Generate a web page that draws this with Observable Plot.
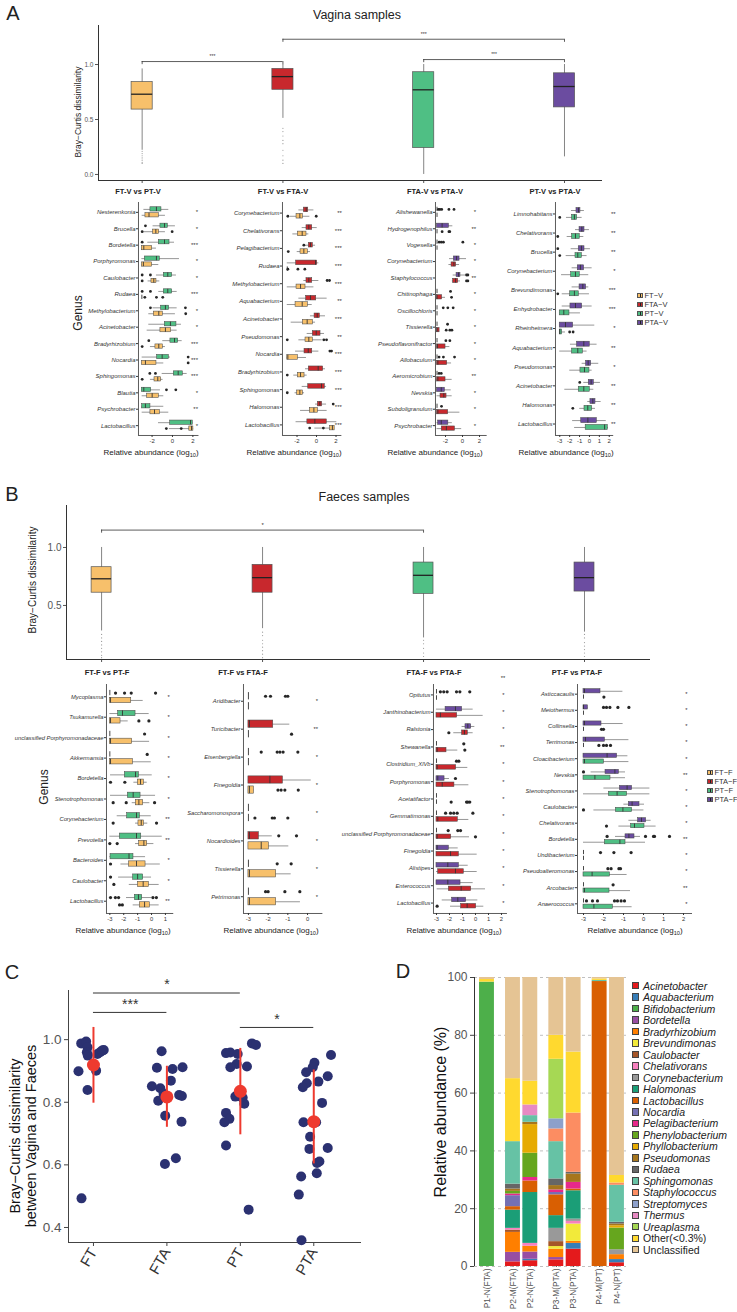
<!DOCTYPE html>
<html><head><meta charset="utf-8">
<script src="https://cdn.jsdelivr.net/npm/d3@7"></script>
<script src="https://cdn.jsdelivr.net/npm/@observablehq/plot@0.6"></script>
<style>
html,body{margin:0;padding:0;background:#fff;}
#root{position:relative;width:737px;height:1312px;overflow:hidden;font-family:"Liberation Sans",Arial,Helvetica,sans-serif;color:#222;background:#fff;}
#root svg{position:absolute;overflow:visible;}
.t{position:absolute;white-space:nowrap;line-height:1;}
.sub g[aria-label^="y-axis"] text{font-style:italic;}
.cplot g[aria-label^="x-axis"] text{font-size:15px;fill:#333;}
.cplot g[aria-label^="y-axis"] text{font-size:13.5px;fill:#555;}
.dplot g[aria-label^="x-axis"] text{font-size:8.4px;fill:#555;}
.dplot g[aria-label^="y-axis"] text{font-size:12px;fill:#555;}
</style></head>
<body><div id="root"></div>
<script>
// ---------------- DATA ----------------
const COLORS = {FT:"#F7C06B", FTA:"#C8282D", PT:"#4FBF84", PTA:"#6B4CA0"};

// Panel A top (vagina) box stats: [whiskerLow, q1, median, q3, whiskerHigh]
const vagGroups = ["FT","FTA","PT","PTA"];
const vagStats = [[0.22,0.59,0.73,0.84,0.96],[0.51,0.77,0.89,0.96,1.0],[0.0,0.24,0.77,0.93,1.0],[0.16,0.61,0.80,0.92,1.0]];
const vagOutliers = [["FT",0.21,0.19,0.17,0.15,0.13,0.11,0.10],["FTA",0.42,0.39,0.35,0.31,0.28,0.22,0.17,0.13,0.10]];
const vagBrackets = [["FT","FTA",1.027,"***"],["FTA","PTA",1.23,"***"],["PT","PTA",1.045,"***"]];

// Panel B top (faeces)
const faeGroups = ["FT","FTA","PT","PTA"];
const faeStats = [[0.28,0.61,0.73,0.83,1.0],[0.30,0.61,0.74,0.85,1.0],[0.22,0.60,0.76,0.87,1.0],[0.27,0.62,0.74,0.87,1.0]];
const faeOutliers = [["FT",0.25,0.22,0.19,0.16,0.13,0.10,0.07,0.05],["FTA",0.27,0.24,0.20,0.17,0.14,0.11,0.08,0.05],["PT",0.20,0.17,0.13,0.09,0.06],["PTA",0.25,0.22,0.18,0.15,0.12,0.09,0.06]];
const faeBrackets = [["FT","PT",1.15,"*"]];

// Sub-panels: boxes [genus, group, wlo, q1, med, q3, whi], outliers [genus, group, values...]
const A1_genera = ["Nesterenkonia","Brucella","Bordetella","Porphyromonas","Caulobacter","Rudaea","Methylobacterium","Acinetobacter","Bradyrhizobium","Nocardia","Sphingomonas","Blautia","Psychrobacter","Lactobacillus"];
const A1_stars = ["*","*","***","*","*","***","*","*","***","***","***","*","**","*"];
const A1_boxes = [
["Nesterenkonia","PT",-2.8,-2.16,-1.57,-1.08,-0.36],["Nesterenkonia","FT",-2.97,-2.65,-2.3,-1.34,-0.69],
["Brucella","PT",-1.9,-1.18,-0.78,-0.46,0.29],["Brucella","FT",-2.81,-1.9,-1.63,-1.31,-0.69],
["Bordetella","PT",-2.42,-1.34,-0.78,-0.29,0.2],["Bordetella","FT",-3,-3,-2.81,-1.99,-1.57],
["Porphyromonas","PT",-3,-2.71,-1.57,-1.24,0.69],["Porphyromonas","FT",-3,-3,-2.85,-1.99,-1.34],
["Caulobacter","PT",-1.57,-0.85,-0.46,-0.03,0.39],["Caulobacter","FT",-2.39,-2.06,-1.83,-1.57,-1.24],
["Rudaea","PT",-1.34,-0.85,-0.46,-0.03,0.46],["Rudaea","FT",-3,-3,-3,-3,-3],
["Methylobacterium","PT",-1.9,-1.11,-0.69,-0.33,0.46],["Methylobacterium","FT",-2.32,-1.83,-1.34,-0.95,0.29],
["Acinetobacter","PT",-2.32,-0.75,-0.2,0.39,0.88],["Acinetobacter","FT",-2.48,-1.18,-0.69,-0.13,0.46],
["Bradyrhizobium","PT",-0.95,-0.2,0.2,0.56,0.95],["Bradyrhizobium","FT",-2.16,-1.67,-1.34,-0.95,-0.69],
["Nocardia","PT",-2.97,-1.5,-1.01,-0.36,-0.2],["Nocardia","FT",-3,-3,-2.65,-1.57,-0.85],
["Sphingomonas","PT",-1.01,0.13,0.56,1.01,1.44],["Sphingomonas","FT",-2.16,-1.76,-1.44,-1.11,-0.92],
["Blautia","PT",-3,-3,-2.81,-2.09,-1.18],["Blautia","FT",-2.97,-2.48,-1.99,-1.34,-0.85],
["Psychrobacter","PT",-3,-2.97,-2.65,-2.16,-0.85],["Psychrobacter","FT",-2.97,-2.16,-1.76,-1.24,-0.36],
["Lactobacillus","PT",-1.37,-0.22,1.77,1.99,2.0],["Lactobacillus","FT",-0.3,1.65,1.87,2.05,2.08]];
const A1_outliers = [["Brucella","PT",-2.65],["Brucella","FT",-2.97,-0.03],["Bordetella","PT",-2.97],
["Caulobacter","PT",-2.97,-2.16],["Caulobacter","FT",-2.97],["Rudaea","PT",-2.97,-2.16],["Rudaea","FT",-2.71,-1.57,-0.95],
["Methylobacterium","PT",-2.16,1.27],["Methylobacterium","FT",1.3],["Bradyrhizobium","PT",-2.32],["Bradyrhizobium","FT",-2.97],
["Nocardia","PT",1.54],["Nocardia","FT",1.54],["Sphingomonas","PT",-2.22,-1.67],["Sphingomonas","FT",-2.97],
["Blautia","PT",-0.59,0.33],["Lactobacillus","FT",-0.6,0.86]];

const A2_genera = ["Corynebacterium","Chelativorans","Pelagibacterium","Rudaea","Methylobacterium","Aquabacterium","Acinetobacter","Pseudomonas","Nocardia","Bradyrhizobium","Sphingomonas","Halomonas","Lactobacillus"];
const A2_stars = ["**","***","***","***","***","**","***","**","***","***","***","***","***"];
const A2_boxes = [
["Corynebacterium","FTA",-1.81,-1.3,-1.06,-0.85,-0.27],["Corynebacterium","FT",-2.67,-2.05,-1.71,-1.4,-0.68],
["Chelativorans","FTA",-1.47,-1.03,-0.79,-0.44,0.07],["Chelativorans","FT",-2.43,-1.91,-1.47,-1.03,-0.79],
["Pelagibacterium","FTA",-1.3,-0.79,-0.62,-0.38,-0.1],["Pelagibacterium","FT",-1.98,-1.64,-1.3,-0.89,-0.62],
["Rudaea","FTA",-3,-2.09,-0.1,0.07,0.24],["Rudaea","FT",-3,-3,-3,-3,-3],
["Methylobacterium","FTA",-1.3,-1.03,-0.79,-0.44,0.24],["Methylobacterium","FT",-3,-2.05,-1.64,-1.13,-0.27],
["Aquabacterium","FTA",-1.81,-1.06,-0.62,-0.03,1.09],["Aquabacterium","FT",-3,-2.15,-1.47,-0.89,-0.44],
["Acinetobacter","FTA",-0.62,-0.2,0.07,0.34,0.92],["Acinetobacter","FT",-2.6,-1.4,-0.96,-0.38,-0.1],
["Pseudomonas","FTA",-0.96,-0.38,-0.03,0.41,0.82],["Pseudomonas","FT",-1.81,-1.13,-0.79,-0.38,0.58],
["Nocardia","FTA",-2.15,-1.23,-0.85,-0.44,0.24],["Nocardia","FT",-3,-3,-2.94,-1.91,-1.03],
["Bradyrhizobium","FTA",-1.13,-0.79,0.17,0.68,0.92],["Bradyrhizobium","FT",-2.33,-1.91,-1.64,-1.23,-0.96],
["Sphingomonas","FTA",-1.47,-0.85,0.51,0.85,1.03],["Sphingomonas","FT",-2.2,-1.98,-1.71,-1.4,-1.23],
["Halomonas","FTA",-0.1,0.14,0.34,0.58,1.03],["Halomonas","FT",-1.64,-0.68,-0.27,0.14,1.09],
["Lactobacillus","FTA",-2.1,-0.94,-0.17,1.05,2.08],["Lactobacillus","FT",-0.17,1.4,1.63,1.86,1.86]];
const A2_outliers = [["Corynebacterium","FT",-2.94,-0.03],["Pelagibacterium","FTA",-1.3],["Pelagibacterium","FT",-2.9],
["Rudaea","FT",-2.94,-1.91,-1.2],["Methylobacterium","FTA",1.09,1.33],["Pseudomonas","FT",-3,0.75,1.03],
["Nocardia","FTA",1.37,1.54],["Bradyrhizobium","FT",-3],["Sphingomonas","FT",-3],["Halomonas","FTA",1.71],["Lactobacillus","FT",-0.7,0.7]];

const A3_genera = ["Alishewanella","Hydrogenophilus","Vogesella","Corynebacterium","Staphylococcus","Chitinophaga","Oscillochloris","Tissierella","Pseudoflavonifractor","Allobaculum","Aeromicrobium","Nevskia","Subdoligranulum","Psychrobacter"];
const A3_stars = ["*","**","*","*","**","*","*","*","*","*","**","*","*","*"];
const A3_boxes = [
["Alishewanella","PTA",-3,-3,-3,-3,-3],["Alishewanella","FTA",-3,-3,-3,-3,-3],
["Hydrogenophilus","PTA",-3,-3,-2.4,-1.6,-1.14],["Hydrogenophilus","FTA",-3,-3,-3,-3,-3],
["Vogesella","PTA",-3,-3,-3,-3,-3],["Vogesella","FTA",-3,-3,-3,-3,-3],
["Corynebacterium","PTA",-1.53,-1.02,-0.7,-0.35,0.47],["Corynebacterium","FTA",-1.6,-1.29,-1.02,-0.75,-0.35],
["Staphylococcus","PTA",-1.1,-0.7,-0.47,-0.24,0.35],["Staphylococcus","FTA",-1.2,-1.1,-0.82,-0.51,-0.24],
["Chitinophaga","PTA",-3,-3,-3,-3,-3],["Chitinophaga","FTA",-3,-3,-3,-2.4,-2.0],
["Oscillochloris","PTA",-3,-3,-3,-3,-3],["Oscillochloris","FTA",-3,-3,-3,-3,-3],
["Tissierella","PTA",-3,-3,-3,-3,-3],["Tissierella","FTA",-3,-3,-3,-2.7,-2.7],
["Pseudoflavonifractor","PTA",-3,-3,-3,-3,-3],["Pseudoflavonifractor","FTA",-3,-3,-2.95,-2.0,-1.49],
["Allobaculum","PTA",-3,-3,-3,-3,-3],["Allobaculum","FTA",-3,-3,-2.9,-1.8,-1.29],
["Aeromicrobium","PTA",-3,-3,-3,-3,-3],["Aeromicrobium","FTA",-3,-3,-2.9,-2.0,-1.22],
["Nevskia","PTA",-3,-3,-2.5,-2.08,-1.33],["Nevskia","FTA",-3,-2.59,-2.2,-1.88,-1.22],
["Subdoligranulum","PTA",-3,-3,-3,-3,-3],["Subdoligranulum","FTA",-3,-3,-2.9,-1.69,-0.31],
["Psychrobacter","PTA",-3,-2.86,-2.5,-1.67,-1.2],["Psychrobacter","FTA",-3,-2.44,-1.9,-0.89,-0.1]];
const A3_outliers = [["Alishewanella","PTA",-2.85,-2.67,-2.45,-1.6,-1.0],["Hydrogenophilus","FTA",-2.4,-1.6,-1.5],
["Vogesella","PTA",-2.75,-2.5,-2.25,0.04],["Staphylococcus","PTA",0.47,0.63],["Staphylococcus","FTA",0.47,0.63],
["Chitinophaga","PTA",-1.41],["Chitinophaga","FTA",-1.29],["Oscillochloris","PTA",-2.27,-1.73,-1.1],
["Tissierella","PTA",-1.76],["Tissierella","FTA",-1.92,-1.49,-1.25],["Pseudoflavonifractor","PTA",-1.96,-1.49],
["Allobaculum","PTA",-2.76,-2.25,-0.94],["Aeromicrobium","PTA",-2.76,-2.5],["Subdoligranulum","PTA",-2.47]];

const A4_genera = ["Limnohabitans","Chelativorans","Brucella","Corynebacterium","Brevundimonas","Enhydrobacter","Rheinheimera","Aquabacterium","Pseudomonas","Acinetobacter","Halomonas","Lactobacillus"];
const A4_stars = ["**","**","**","*","***","***","*","**","*","**","**","**"];
const A4_boxes = [
["Limnohabitans","PTA",-1.82,-1.31,-1.11,-0.91,-0.51],["Limnohabitans","PT",-2.32,-1.75,-1.52,-1.25,-0.74],
["Chelativorans","PTA",-1.41,-1.0,-0.77,-0.5,0.0],["Chelativorans","PT",-2.25,-1.75,-1.41,-0.98,-0.57],
["Brucella","PTA",-1.85,-1.08,-0.81,-0.5,0.1],["Brucella","PT",-2.35,-1.41,-1.18,-0.77,-0.24],
["Corynebacterium","PTA",-1.75,-1.18,-0.91,-0.54,0.27],["Corynebacterium","PT",-2.82,-1.85,-1.41,-0.98,-0.07],
["Brevundimonas","PTA",-1.75,-1.0,-0.67,-0.34,-0.07],["Brevundimonas","PT",-2.75,-1.95,-1.52,-1.08,0.0],
["Enhydrobacter","PTA",-2.75,-1.92,-1.41,-0.74,0.27],["Enhydrobacter","PT",-3,-3,-2.59,-2.02,-0.91],
["Rheinheimera","PTA",-3,-3,-2.42,-1.65,0.54],["Rheinheimera","PT",-3,-3,-3,-2.76,-2.42],
["Aquabacterium","PTA",-1.92,-1.25,-0.57,0.03,0.77],["Aquabacterium","PT",-3,-1.75,-1.18,-0.67,-0.24],
["Pseudomonas","PTA",-0.74,-0.34,-0.13,0.17,0.94],["Pseudomonas","PT",-1.99,-0.91,-0.5,0.0,0.27],
["Acinetobacter","PTA",-0.57,-0.07,0.17,0.44,1.11],["Acinetobacter","PT",-2.49,-1.08,-0.57,0.03,0.44],
["Halomonas","PTA",-0.17,0.1,0.34,0.61,1.18],["Halomonas","PT",-0.98,-0.5,-0.17,0.27,0.61],
["Lactobacillus","PTA",-1.7,-0.83,-0.16,0.74,1.7],["Lactobacillus","PT",-1.5,-0.38,1.53,1.85,1.9]];
const A4_outliers = [["Limnohabitans","PT",-3],["Chelativorans","PT",-3.2],["Brucella","PTA",-3.2],["Brucella","PT",-3],
["Brevundimonas","PT",-3.2],["Rheinheimera","PT",-2.0,-1.65],["Acinetobacter","PTA",-0.98],["Halomonas","PT",-1.68]];

const B1_genera = ["Mycoplasma","Tsukamurella","unclassified Porphyromonadaceae","Akkermansia","Bordetella","Stenotrophomonas","Corynebacterium","Prevotella","Bacteroides","Caulobacter","Lactobacillus"];
const B1_stars = ["*","*","*","*","*","*","**","**","*","*","**"];
const B1_boxes = [
["Mycoplasma","PT",-3,-3,-3,-3,-3],["Mycoplasma","FT",-3,-3,-2.95,-1.46,-0.6],
["Tsukamurella","PT",-3,-2.4,-2.09,-1.15,-0.17],["Tsukamurella","FT",-3,-3,-2.95,-2.23,-1.68],
["unclassified Porphyromonadaceae","PT",-3,-3,-3,-3,-3],["unclassified Porphyromonadaceae","FT",-3,-3,-2.95,-1.39,-0.14],
["Akkermansia","PT",-3,-3,-3,-3,-3],["Akkermansia","FT",-3,-3,-2.95,-1.34,-0.02],
["Bordetella","PT",-2.95,-1.92,-1.15,-0.91,0.05],["Bordetella","FT",-1.27,-0.98,-0.79,-0.55,-0.31],
["Stenotrophomonas","PT",-2.95,-1.7,-1.32,-0.79,0.29],["Stenotrophomonas","FT",-1.39,-1.13,-0.91,-0.6,-0.12],
["Corynebacterium","PT",-2.47,-1.75,-1.08,-0.84,-0.02],["Corynebacterium","FT",-1.15,-0.94,-0.74,-0.55,-0.27],
["Prevotella","PT",-3,-2.28,-1.08,-0.74,0.77],["Prevotella","FT",-1.15,-0.89,-0.55,-0.31,0.17],
["Bacteroides","PT",-3,-2.95,-1.62,-1.3,-0.43],["Bacteroides","FT",-2.2,-1.62,-1.08,-0.43,0.63],
["Caulobacter","PT",-2.37,-1.32,-1.0,-0.6,0.0],["Caulobacter","FT",-1.6,-0.98,-0.6,-0.19,0.55],
["Lactobacillus","PT",-1.8,-1.2,-0.94,-0.67,0.0],["Lactobacillus","FT",-1.32,-0.84,-0.5,-0.12,0.55]];
const B1_outliers = [["Mycoplasma","PT",-2.59,-1.94,-1.46,0.29],["Tsukamurella","FT",-0.91,-0.19],
["unclassified Porphyromonadaceae","PT",-0.5],["Akkermansia","PT",-0.31],["Bordetella","FT",-2.95,-1.92],
["Stenotrophomonas","FT",-2.76,-1.82,0.22],["Corynebacterium","FT",-2.76,0.36],["Prevotella","FT",-3,-2.47],
["Bacteroides","FT",-2.95],["Caulobacter","PT",-2.95],["Caulobacter","FT",-2.71],
["Lactobacillus","PT",-2.95,-2.6,-2.37,0.1,0.35],["Lactobacillus","FT",-2.3,-2.1]];

const B2_genera = ["Aridibacter","Turicibacter","Eisenbergiella","Finegoldia","Saccharomonospora","Nocardioides","Tissierella","Petrimonas"];
const B2_stars = ["*","**","*","*","*","*","*","*"];
const B2_boxes = [
["Aridibacter","FTA",-3,-3,-3,-3,-3],["Aridibacter","FT",-3,-3,-3,-3,-3],
["Turicibacter","FTA",-3,-3,-2.95,-1.74,-0.9],["Turicibacter","FT",-3,-3,-3,-3,-3],
["Eisenbergiella","FTA",-3,-3,-3,-3,-3],["Eisenbergiella","FT",-3,-3,-3,-3,-3],
["Finegoldia","FTA",-3,-3,-1.91,-1.25,0.19],["Finegoldia","FT",-3,-3,-2.95,-2.72,-2.72],
["Saccharomonospora","FTA",-3,-3,-3,-3,-3],["Saccharomonospora","FT",-3,-3,-3,-3,-3],
["Nocardioides","FTA",-3,-3,-2.95,-2.47,-1.79],["Nocardioides","FT",-3,-3,-2.35,-1.96,-0.95],
["Tissierella","FTA",-3,-3,-3,-3,-3],["Tissierella","FT",-3,-3,-2.95,-1.59,-0.83],
["Petrimonas","FTA",-3,-3,-3,-3,-3],["Petrimonas","FT",-3,-3,-2.95,-1.59,-0.36]];
const B2_outliers = [["Aridibacter","FTA",-2.13,-1.88,-1.12,-1.0],["Turicibacter","FT",-0.81],
["Eisenbergiella","FTA",-2.35,-1.54,-1.4,-1.24,-0.49],["Finegoldia","FT",-1.5,-1.34,-1.15,-0.47],
["Saccharomonospora","FT",-2.67,-1.79,-1.68,-1.0],["Nocardioides","FTA",-1.46,-0.56],
["Tissierella","FTA",-1.54,-0.83],["Petrimonas","FTA",-2.13,-2.0,-1.15,-0.39]];

const B3_genera = ["Opitutus","Janthinobacterium","Ralstonia","Shewanella","Clostridium_XlVb","Porphyromonas","Acetatifactor","Gemmatimonas","unclassified Porphyromonadaceae","Finegoldia","Alistipes","Enterococcus","Lactobacillus"];
const B3_stars = ["*","*","*","**","*","*","*","*","*","*","*","*","*"];
const B3_boxes = [
["Opitutus","PTA",-3,-3,-3,-3,-3],["Opitutus","FTA",-3,-3,-3,-3,-3],
["Janthinobacterium","PTA",-3,-2.3,-1.54,-1.03,-0.18],["Janthinobacterium","FTA",-3,-3,-2.7,-1.41,0.59],
["Ralstonia","PTA",-1.03,-0.77,-0.59,-0.33,-0.05],["Ralstonia","FTA",-1.67,-1.03,-0.85,-0.59,-0.18],
["Shewanella","PTA",-3,-3,-3,-3,-3],["Shewanella","FTA",-3,-3,-2.95,-2.23,-1.36],
["Clostridium_XlVb","PTA",-3,-3,-3,-3,-3],["Clostridium_XlVb","FTA",-3,-3,-2.95,-1.49,-0.59],
["Porphyromonas","PTA",-3,-3,-2.9,-2.38,-2.0],["Porphyromonas","FTA",-3,-3,-2.56,-1.62,-0.51],
["Acetatifactor","PTA",-3,-3,-3,-3,-3],["Acetatifactor","FTA",-3,-3,-3,-3,-3],
["Gemmatimonas","PTA",-3,-3,-3,-3,-3],["Gemmatimonas","FTA",-3,-3,-2.9,-1.36,-0.51],
["unclassified Porphyromonadaceae","PTA",-3,-3,-3,-3,-3],["unclassified Porphyromonadaceae","FTA",-3,-3,-2.95,-1.87,-0.46],
["Finegoldia","PTA",-3,-3,-2.95,-2.05,-1.33],["Finegoldia","FTA",-3,-3,-1.92,-1.28,0.13],
["Alistipes","PTA",-3,-3,-2.13,-1.28,-0.56],["Alistipes","FTA",-3,-2.87,-1.54,-0.9,0.13],
["Enterococcus","PTA",-3,-3,-2.13,-1.15,-0.18],["Enterococcus","FTA",-2.95,-2.05,-1.1,-0.33,0.77],
["Lactobacillus","PTA",-2.56,-1.79,-1.36,-0.72,0.18],["Lactobacillus","FTA",-1.92,-1.1,-0.64,0.05,0.64]];
const B3_outliers = [["Opitutus","PTA",-2.7,-2.44,-2.18,-1.46,-1.2,-0.44],["Ralstonia","FTA",-2.05],
["Shewanella","PTA",-0.9],["Shewanella","FTA",-0.82],["Clostridium_XlVb","PTA",-1.46,-1.28],["Porphyromonas","PTA",-1.54],
["Acetatifactor","FTA",-1.87,-0.69,-0.59,-0.44],["Gemmatimonas","PTA",-2.3,-1.92,-1.67,-1.41,-0.2],
["unclassified Porphyromonadaceae","PTA",-2.1,-1.36,-1.15],["unclassified Porphyromonadaceae","FTA",0.0],["Lactobacillus","FTA",-2.95]];

const B4_genera = ["Asticcacaulis","Meiothermus","Collinsella","Terrimonas","Cloacibacterium","Nevskia","Stenotrophomonas","Caulobacter","Chelativorans","Bordetella","Undibacterium","Pseudoalteromonas","Arcobacter","Anaerococcus"];
const B4_stars = ["*","*","*","*","*","**","*","*","*","**","*","*","**","*"];
const B4_boxes = [
["Asticcacaulis","PTA",-3,-3,-2.95,-2.15,-1.03],["Asticcacaulis","PT",-3,-3,-3,-3,-3],
["Meiothermus","PTA",-3,-3,-3,-2.78,-2.78],["Meiothermus","PT",-3,-3,-3,-3,-3],
["Collinsella","PTA",-3,-3,-2.95,-2.1,-1.02],["Collinsella","PT",-3,-3,-3,-3,-3],
["Terrimonas","PTA",-3,-3,-2.9,-1.93,-0.73],["Terrimonas","PT",-3,-3,-3,-3,-3],
["Cloacibacterium","PTA",-3,-3,-1.82,-1.32,-0.78],["Cloacibacterium","PT",-3,-3,-2.95,-1.98,-0.73],
["Nevskia","PTA",-2.62,-1.9,-1.43,-1.23,-0.9],["Nevskia","PT",-3,-3,-2.43,-1.65,-0.9],
["Stenotrophomonas","PTA",-1.98,-1.18,-0.82,-0.57,0.32],["Stenotrophomonas","PT",-3,-1.73,-1.32,-0.82,0.32],
["Caulobacter","PTA",-0.98,-0.73,-0.57,-0.2,0.05],["Caulobacter","PT",-2.48,-1.38,-1.03,-0.57,0.02],
["Chelativorans","PTA",-0.73,-0.27,-0.1,0.13,0.38],["Chelativorans","PT",-1.23,-0.62,-0.45,0.05,0.63],
["Bordetella","PTA",-1.4,-0.9,-0.73,-0.45,-0.15],["Bordetella","PT",-3,-1.93,-1.18,-0.9,0.1],
["Undibacterium","PTA",-3,-3,-3,-3,-3],["Undibacterium","PT",-3,-3,-3,-3,-3],
["Pseudoalteromonas","PTA",-3,-3,-3,-3,-3],["Pseudoalteromonas","PT",-3,-3,-2.57,-1.68,-0.82],
["Arcobacter","PTA",-3,-3,-3,-3,-3],["Arcobacter","PT",-3,-3,-2.95,-1.7,-0.65],
["Anaerococcus","PTA",-3,-3,-3,-3,-3],["Anaerococcus","PT",-3,-3,-2.48,-1.53,-0.57]];
const B4_outliers = [["Asticcacaulis","PT",-1.98],["Meiothermus","PTA",-2.0,-1.85,-1.68,-1.28,-0.73],["Collinsella","PT",-2.1,-2.0],
["Terrimonas","PT",-2.23,-2.0,-1.85,-1.65],["Nevskia","PTA",-3],["Caulobacter","PT",-3],["Chelativorans","PT",-1.85],
["Bordetella","PTA",-1.82,0.1,0.5,0.55,1.3],["Undibacterium","PTA",-2.15,-1.48,-0.62],
["Pseudoalteromonas","PTA",-1.78,-1.62,-1.23,-1.15],["Arcobacter","PTA",-1.52],["Anaerococcus","PTA",-2.85,-2.55,-2.3,-1.45,-1.3,-1.12,-0.95]];

// Panel C: points [jitter, value]
const cGroups = ["FT","FTA","PT","PTA"];
const cFT = [[-0.167,0.988],[-0.10,0.994],[-0.081,0.976],[-0.09,0.96],[-0.077,0.949],[-0.204,0.899],[0.036,0.901],[-0.081,0.839],[-0.163,0.493],[0.054,0.954],[0.09,0.96],[0.118,0.965],[0.14,0.967]];
const cFTA = [[-0.072,0.963],[-0.136,0.91],[0.077,0.906],[0.213,0.912],[0.054,0.869],[-0.204,0.851],[-0.09,0.845],[-0.045,0.827],[-0.118,0.805],[0.167,0.823],[0.204,0.82],[-0.023,0.757],[0.199,0.738],[-0.027,0.603],[0.122,0.621]];
const cPT = [[-0.195,0.957],[-0.136,0.959],[-0.036,0.954],[0.158,0.988],[0.213,0.983],[-0.05,0.922],[-0.136,0.912],[0.09,0.914],[-0.068,0.818],[0.032,0.814],[0.054,0.795],[-0.195,0.766],[-0.149,0.747],[-0.217,0.736],[-0.195,0.662],[0.113,0.457],[0.009,0.818]];
const cPTA = [[0.235,0.951],[0.009,0.926],[-0.014,0.912],[-0.104,0.896],[0.19,0.883],[0.063,0.866],[-0.095,0.861],[-0.149,0.848],[0.113,0.798],[-0.14,0.736],[0.032,0.736],[-0.05,0.69],[-0.059,0.651],[0.19,0.654],[0.077,0.611],[0.045,0.606],[0.041,0.573],[-0.172,0.563],[-0.204,0.505],[-0.167,0.359]];
const cMean = [0.919,0.817,0.835,0.738];
const cLow = [0.797,0.72,0.696,0.603];
const cHigh = [1.039,0.915,0.972,0.903];
const cBrackets = [["FT","PT",1.149,"*"],["FT","FTA",1.087,"***"],["PT","PTA",1.039,"*"]];

// Panel D
const dSamples = ["P1-N(FTA)","P2-M(FTA)","P2-N(FTA)","P3-M(PTA)","P3-N(PTA)","P4-M(PT)","P4-N(PT)"];
const dPatient = ["P1","P2","P2","P3","P3","P4","P4"];
const dGenera = ["Acinetobacter","Aquabacterium","Bifidobacterium","Bordetella","Bradyrhizobium","Brevundimonas","Caulobacter","Chelativorans","Corynebacterium","Halomonas","Lactobacillus","Nocardia","Pelagibacterium","Phenylobacterium","Phyllobacterium","Pseudomonas","Rudaea","Sphingomonas","Staphylococcus","Streptomyces","Thermus","Ureaplasma","Other(<0.3%)","Unclassified"];
const dColors = ["#E41A1C","#377EB8","#4DAF4A","#984EA3","#FF7F00","#F2EA3A","#A65628","#F781BF","#999999","#1B9E77","#D95F02","#7570B3","#E7298A","#66A61E","#E6AB02","#A6761D","#666666","#66C2A5","#FC8D62","#8DA0CB","#E78AC3","#A6D854","#FFD92F","#E5C494"];
const comp_P1N = [["Bifidobacterium",98.4],["Other(<0.3%)",0.9],["Unclassified",0.7]];
const comp_P2M = [["Acinetobacter",1.6],["Bordetella",3.3],["Bradyrhizobium",6.9],["Caulobacter",0.8],["Chelativorans",0.6],["Halomonas",6.3],["Lactobacillus",1.2],["Nocardia",3.8],["Pelagibacterium",0.6],["Phenylobacterium",0.9],["Pseudomonas",0.8],["Rudaea",1.7],["Sphingomonas",14.7],["Other(<0.3%)",21.8],["Unclassified",35.0]];
const comp_P2N = [["Acinetobacter",2.0],["Aquabacterium",0.5],["Bordetella",2.5],["Bradyrhizobium",2.0],["Chelativorans",1.0],["Halomonas",17.6],["Lactobacillus",4.0],["Pelagibacterium",1.2],["Phenylobacterium",8.4],["Phyllobacterium",9.9],["Pseudomonas",0.8],["Sphingomonas",2.3],["Thermus",3.7],["Other(<0.3%)",8.2],["Unclassified",35.9]];
const comp_P3M = [["Acinetobacter",2.3],["Bordetella",0.8],["Bradyrhizobium",2.9],["Brevundimonas",0.9],["Caulobacter",1.7],["Corynebacterium",4.6],["Halomonas",4.4],["Lactobacillus",7.2],["Nocardia",0.8],["Pelagibacterium",0.9],["Pseudomonas",1.5],["Rudaea",2.3],["Sphingomonas",12.9],["Staphylococcus",4.4],["Streptomyces",3.5],["Ureaplasma",20.6],["Other(<0.3%)",8.3],["Unclassified",20.0]];
const comp_P3N = [["Acinetobacter",6.0],["Aquabacterium",2.0],["Bradyrhizobium",0.7],["Brevundimonas",6.0],["Chelativorans",0.9],["Corynebacterium",0.8],["Halomonas",9.8],["Lactobacillus",0.6],["Pelagibacterium",2.3],["Pseudomonas",2.9],["Rudaea",0.6],["Staphylococcus",20.5],["Other(<0.3%)",21.1],["Unclassified",25.8]];
const comp_P4M = [["Lactobacillus",98.6],["Sphingomonas",0.4],["Other(<0.3%)",0.5],["Unclassified",0.5]];
const comp_P4N = [["Acinetobacter",1.3],["Aquabacterium",1.1],["Bradyrhizobium",1.7],["Corynebacterium",1.7],["Phenylobacterium",7.5],["Phyllobacterium",0.8],["Pseudomonas",0.6],["Rudaea",0.6],["Sphingomonas",12.8],["Staphylococcus",0.8],["Other(<0.3%)",2.6],["Unclassified",68.5]];
const dComps = [comp_P1N, comp_P2M, comp_P2N, comp_P3M, comp_P3N, comp_P4M, comp_P4N];

// ---------------- RENDER ----------------
const root = document.getElementById("root");
const FONT = '"Liberation Sans", Arial, Helvetica, sans-serif';
function place(svg, left, top) { svg.style.position = "absolute"; svg.style.left = left + "px"; svg.style.top = top + "px"; root.appendChild(svg); }
function sty(size, color = "#333") { return {background: "transparent", fontFamily: FONT, fontSize: size + "px", color, overflow: "visible"}; }
function txt(s, x, y, o = {}) {
  const d = document.createElement("div");
  d.className = "t"; d.innerHTML = s;
  d.style.left = x + "px"; d.style.top = y + "px";
  d.style.fontSize = (o.size || 10) + "px";
  if (o.weight) d.style.fontWeight = o.weight;
  if (o.italic) d.style.fontStyle = "italic";
  d.style.color = o.color || "#222";
  const ax = o.anchor === "start" ? "0" : o.anchor === "end" ? "-100%" : "-50%";
  d.style.transform = `translate(${ax},-50%)` + (o.rotate ? ` rotate(${o.rotate}deg)` : "");
  root.appendChild(d);
  return d;
}

// Top boxplot
function topBox(p) {
  const gi = g => p.groups.indexOf(g);
  const data = p.groups.map((g, i) => ({g, i, wlo: p.stats[i][0], q1: p.stats[i][1], med: p.stats[i][2], q3: p.stats[i][3], whi: p.stats[i][4]}));
  const outs = p.outliers.flatMap(([g, ...vs]) => vs.map(v => ({i: gi(g), v})));
  const br = p.brackets.map(([a, b, y, s]) => ({a: gi(a), b: gi(b), y, s}));
  const drop = (p.yDomain[1] - p.yDomain[0]) * 0.02;
  const svg = Plot.plot({
    width: p.width, height: p.height, marginLeft: p.ml, marginRight: p.mr, marginTop: p.mt, marginBottom: p.mb,
    style: sty(p.tickSize, "#555"),
    color: {type: "identity"},
    x: {domain: p.xDomain, ticks: [0, 1, 2, 3], tickFormat: () => "", tickSize: 3, label: null},
    y: {domain: p.yDomain, ticks: p.yTicks, tickFormat: d3.format(".1f"), tickSize: 3, tickPadding: 2, label: null},
    marks: [
      Plot.ruleX([p.xDomain[0]], {stroke: "#333", strokeWidth: 1}),
      Plot.ruleY([p.yDomain[0]], {stroke: "#333", strokeWidth: 1}),
      Plot.dot(outs, {x: "i", y: "v", r: 0.6, fill: "#9a9a9a", stroke: null}),
      Plot.ruleX(data, {x: "i", y1: "wlo", y2: "whi", stroke: "#666", strokeWidth: 0.8}),
      Plot.rect(data, {x1: d => d.i - p.bw, x2: d => d.i + p.bw, y1: "q1", y2: "q3", fill: d => COLORS[d.g], stroke: "#555", strokeWidth: 0.7}),
      Plot.ruleY(data, {y: "med", x1: d => d.i - p.bw, x2: d => d.i + p.bw, stroke: "#222", strokeWidth: 1.3}),
      Plot.ruleY(br, {y: "y", x1: "a", x2: "b", stroke: "#333", strokeWidth: 0.8}),
      Plot.ruleX(br, {x: "a", y1: d => d.y - drop, y2: "y", stroke: "#333", strokeWidth: 0.8}),
      Plot.ruleX(br, {x: "b", y1: d => d.y - drop, y2: "y", stroke: "#333", strokeWidth: 0.8}),
      Plot.text(br, {x: d => (d.a + d.b) / 2, y: "y", text: "s", dy: -5, fontSize: p.starSize, fill: "#333"})
    ]
  });
  place(svg, p.left, p.top);
}

// Genus sub-panel
const DODGE = 0.18, HALF = 0.13;
function genusPanel(p) {
  const n = p.genera.length;
  const idx = new Map(p.genera.map((g, i) => [g, i]));
  const off = g => (g === p.upper ? -DODGE : DODGE);
  const boxes = p.boxes.map(([genus, group, wlo, q1, med, q3, whi]) => ({group, wlo, q1, med, q3, whi, y: idx.get(genus) + off(group)}));
  const outs = p.outliers.flatMap(([genus, group, ...xs]) => xs.map(x => ({x, y: idx.get(genus) + off(group)})));
  const stars = p.stars.map((s, i) => ({s, y: i}));
  const ML = 112, MB = 12;
  const plotW = (p.domain[1] - p.domain[0]) * p.k;
  const H = p.bottom - p.top;
  const svg = Plot.plot({
    className: "sub",
    width: ML + plotW, height: H + MB, marginLeft: ML, marginRight: 0, marginTop: 0, marginBottom: MB,
    style: sty(p.font, "#333"),
    color: {type: "identity"},
    x: {domain: p.domain, ticks: p.ticks, tickFormat: d => String(d), tickSize: 2, tickPadding: 1, label: null},
    y: {domain: [-0.6, n - 0.4], reverse: true, ticks: d3.range(n), tickFormat: i => p.genera[i], tickSize: 2, tickPadding: 1, label: null},
    marks: [
      Plot.ruleY(boxes, {y: "y", x1: "wlo", x2: "whi", stroke: "#6a6a6a", strokeWidth: 0.7}),
      Plot.rect(boxes, {x1: "q1", x2: "q3", y1: d => d.y - HALF, y2: d => d.y + HALF, fill: d => COLORS[d.group], stroke: "#4a4a4a", strokeWidth: 0.55}),
      Plot.ruleX(boxes, {x: "med", y1: d => d.y - HALF, y2: d => d.y + HALF, stroke: "#333", strokeWidth: 0.9}),
      Plot.dot(outs, {x: "x", y: "y", r: p.r, fill: "#262626", stroke: null}),
      Plot.text(stars, {y: "y", text: "s", frameAnchor: "right", textAnchor: "end", dx: p.starDx, fontSize: p.font, fill: "#333"}),
      Plot.ruleX([p.domain[0]], {stroke: "#333", strokeWidth: 0.8}),
      Plot.ruleY([n - 0.4], {stroke: "#333", strokeWidth: 0.8})
    ]
  });
  place(svg, p.axisX - ML, p.top);
}

// Panel letters and titles
txt("A", 13, 13, {size: 20});
txt("B", 12, 494, {size: 20});
txt("C", 12, 972, {size: 20});
txt("D", 403, 971, {size: 20});
txt("Vagina samples", 357, 15, {size: 12.5});
txt("Faeces samples", 364, 497, {size: 12.5});

topBox({groups: vagGroups, stats: vagStats, outliers: vagOutliers, brackets: vagBrackets,
  left: 0, top: 0, width: 620, height: 200, ml: 98, mr: 18, mt: 25, mb: 20,
  xDomain: [-0.31, 3.27], yDomain: [-0.055, 1.355], yTicks: [0, 0.5, 1], bw: 0.075, tickSize: 6.5, starSize: 5});
txt("Bray−Curtis dissimilarity", 78, 112, {size: 8.5, rotate: -90});

topBox({groups: faeGroups, stats: faeStats, outliers: faeOutliers, brackets: faeBrackets,
  left: 0, top: 480, width: 660, height: 199, ml: 66, mr: 10, mt: 25, mb: 20,
  xDomain: [-0.218, 3.41], yDomain: [0.034, 1.362], yTicks: [0.5, 1], bw: 0.062, tickSize: 10, starSize: 6});
txt("Bray−Curtis dissimilarity", 33, 580, {size: 10, rotate: -90});

// Sub-panel titles (tick labels of the top boxplots)
[["FT-V vs PT-V",138],["FT-V vs FTA-V",283],["FTA-V vs PTA-V",435],["PT-V vs PTA-V",555]].forEach(([s, x]) => txt(s, x, 192, {size: 7.5, weight: "bold"}));
[["FT-F vs PT-F",107],["FT-F vs FTA-F",243],["FTA-F vs PTA-F",434],["PT-F vs PTA-F",577]].forEach(([s, x]) => txt(s, x, 673, {size: 7.5, weight: "bold"}));

const A = {top: 202, bottom: 435, font: 6, r: 1.4};
genusPanel({...A, genera: A1_genera, stars: A1_stars, boxes: A1_boxes, outliers: A1_outliers, upper: "PT", axisX: 138, domain: [-3.33, 2.6], k: 10.2, ticks: [-2, 0, 2], starDx: -1});
genusPanel({...A, genera: A2_genera, stars: A2_stars, boxes: A2_boxes, outliers: A2_outliers, upper: "FTA", axisX: 282, domain: [-3.49, 2.6], k: 9.75, ticks: [-2, 0, 2], starDx: 0});
genusPanel({...A, genera: A3_genera, stars: A3_stars, boxes: A3_boxes, outliers: A3_outliers, upper: "PTA", axisX: 435, domain: [-3.18, 2.9], k: 8.5, ticks: [-2, 0, 2], starDx: -11});
genusPanel({...A, genera: A4_genera, stars: A4_stars, boxes: A4_boxes, outliers: A4_outliers, upper: "PTA", axisX: 555, domain: [-3.43, 2.45], k: 9.9, ticks: [-3, -2, -1, 0, 1, 2], starDx: 2});
const B = {top: 684, bottom: 913, font: 5.8, r: 1.6};
genusPanel({...B, genera: B1_genera, stars: B1_stars, boxes: B1_boxes, outliers: B1_outliers, upper: "PT", axisX: 106, domain: [-3.24, 1.6], k: 13.9, ticks: [-3, -2, -1, 0, 1], starDx: -4});
genusPanel({...B, genera: B2_genera, stars: B2_stars, boxes: B2_boxes, outliers: B2_outliers, upper: "FTA", axisX: 243, domain: [-3.25, 0.78], k: 19.7, ticks: [-3, -2, -1, 0], starDx: -5});
genusPanel({...B, genera: B3_genera, stars: B3_stars, boxes: B3_boxes, outliers: B3_outliers, upper: "PTA", axisX: 433, domain: [-3.23, 2.46], k: 13, ticks: [-3, -2, -1, 0, 1, 2], starDx: -3});
genusPanel({...B, genera: B4_genera, stars: B4_stars, boxes: B4_boxes, outliers: B4_outliers, upper: "PTA", axisX: 577, domain: [-3.3, 2.45], k: 20, ticks: [-3, -2, -1, 0, 1, 2], starDx: -5});
txt("**", 503, 679, {size: 5.8, color: "#333"});

const RA = "Relative abundance (log<sub style='font-size:70%;vertical-align:-2px'>10</sub>)";
[151, 294, 435, 566].forEach(x => txt(RA, x, 454, {size: 8}));
[123, 271, 454, 635].forEach(x => txt(RA, x, 932, {size: 8}));
txt("Genus", 78, 313, {size: 12, rotate: -90});
txt("Genus", 44, 787, {size: 12, rotate: -90});

// Box legends
function boxLegend(items, x, y0, dy) {
  items.forEach(([label, g], i) => {
    const y = y0 + i * dy;
    const k = document.createElement("div");
    k.style.cssText = `position:absolute;left:${x}px;top:${y - 3}px;width:6px;height:5px;background:${COLORS[g]};border:0.7px solid #555;box-sizing:border-box;`;
    const m = document.createElement("div");
    m.style.cssText = "position:absolute;left:2.2px;top:0;width:0.8px;height:100%;background:#222;";
    k.appendChild(m); root.appendChild(k);
    txt(label, x + 7.5, y, {size: 7.5, anchor: "start", color: "#333"});
  });
}
boxLegend([["FT−V","FT"],["FTA−V","FTA"],["PT−V","PT"],["PTA−V","PTA"]], 637, 296, 9);
boxLegend([["FT−F","FT"],["FTA−F","FTA"],["PT−F","PT"],["PTA−F","PTA"]], 707, 773, 9);

// Panel C
{
  const pts = [cFT, cFTA, cPT, cPTA].flatMap((arr, i) => arr.map(([j, v]) => ({i, j, v})));
  const means = cGroups.map((g, i) => ({i, m: cMean[i], lo: cLow[i], hi: cHigh[i]}));
  const br = cBrackets.map(([a, b, y, s]) => ({a: cGroups.indexOf(a), b: cGroups.indexOf(b), y, s}));
  const svg = Plot.plot({
    className: "cplot",
    width: 370, height: 352, marginLeft: 68, marginRight: 9, marginTop: 30, marginBottom: 70,
    style: sty(13, "#444"),
    x: {domain: [-0.34, 3.65], ticks: [0, 1, 2, 3], tickFormat: i => cGroups[i], tickRotate: -60, tickSize: 4, tickPadding: 3, label: null},
    y: {domain: [0.352, 1.157], ticks: [0.4, 0.6, 0.8, 1.0], tickFormat: d3.format(".1f"), tickSize: 4, tickPadding: 3, label: null},
    marks: [
      Plot.ruleX([-0.34], {stroke: "#444", strokeWidth: 1}),
      Plot.ruleY([0.352], {stroke: "#444", strokeWidth: 1}),
      Plot.ruleY(br, {y: "y", x1: "a", x2: "b", stroke: "#333", strokeWidth: 1}),
      Plot.text(br, {x: d => (d.a + d.b) / 2, y: "y", text: "s", dy: -8, fontSize: 14, fill: "#333"}),
      Plot.dot(pts, {x: d => d.i + d.j, y: "v", r: 5, fill: "#2B3171", stroke: null}),
      Plot.ruleX(means, {x: "i", y1: "lo", y2: "hi", stroke: "#EE3A2F", strokeWidth: 2}),
      Plot.dot(means, {x: "i", y: "m", r: 6.5, fill: "#EE3A2F", stroke: null})
    ]
  });
  place(svg, 0, 960);
  txt("Bray−Curtis dissimilarity", 15, 1136, {size: 14.5, rotate: -90, color: "#111"});
  txt("between Vagina and Faeces", 31, 1136, {size: 14.5, rotate: -90, color: "#111"});
}

// Panel D
{
  const patients = [...new Set(dPatient)];
  const pos = dSamples.map((s, i) => i + 0.5 * patients.indexOf(dPatient[i]));
  const rows = dComps.flatMap((comp, i) => comp.map(([genus, v]) => ({sample: dSamples[i], p: pos[i], genus, v})));
  const colorOf = new Map(dGenera.map((g, i) => [g, dColors[i]]));
  const svg = Plot.plot({
    className: "dplot",
    width: 260, height: 352, marginLeft: 104, marginRight: 4, marginTop: 17, marginBottom: 46,
    style: sty(12, "#444"),
    color: {type: "identity"},
    x: {domain: [-0.72, 8.05], ticks: pos, tickFormat: p => dSamples[pos.indexOf(p)], tickRotate: -90, tickSize: 1, tickPadding: 1, label: null},
    y: {domain: [0, 100], ticks: [0, 20, 40, 60, 80, 100], tickSize: 4, tickPadding: 3, label: null},
    marks: [
      Plot.ruleY([0, 20, 40, 60, 80, 100], {stroke: "#b0b0b0", strokeWidth: 0.8, strokeDasharray: "3,3"}),
      Plot.rectY(rows, Plot.stackY({x1: d => d.p - 0.43, x2: d => d.p + 0.43, y: "v", z: "genus", order: dGenera, fill: d => colorOf.get(d.genus)})),
      Plot.ruleX([-0.72], {stroke: "#333", strokeWidth: 1})
    ]
  });
  place(svg, 370, 960);
  txt("Relative abundance (%)", 441, 1112, {size: 16, rotate: -90, color: "#111"});
  dGenera.forEach((g, i) => {
    const y = 985.7 + i * 11.48;
    const k = document.createElement("div");
    k.style.cssText = `position:absolute;left:632px;top:${y - 3.7}px;width:7.4px;height:7.4px;background:${dColors[i]};border:0.7px solid #444;box-sizing:border-box;`;
    root.appendChild(k);
    txt(g, 643, y, {size: 10.5, anchor: "start", italic: i < 22, color: "#222"});
  });
}
</script></body></html>
